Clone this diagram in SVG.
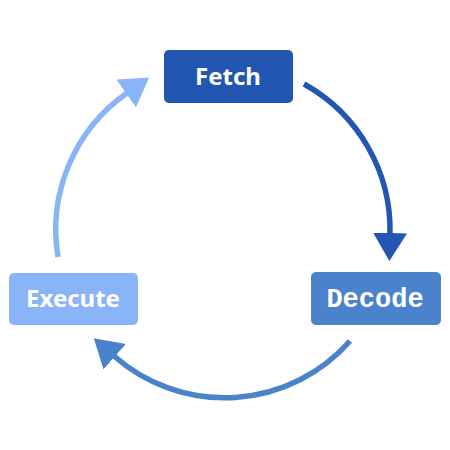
<svg xmlns="http://www.w3.org/2000/svg" width="450" height="450" viewBox="0 0 450 450">
  <style>
    .lbl { fill: #ffffff; font-family: 'Noto Sans', 'Open Sans', sans-serif; font-weight: bold; font-size: 24px; text-anchor: middle; }
    .arc { fill: none; stroke-width: 5.5; }
  </style>
  <defs>
    <marker id="m1" markerUnits="userSpaceOnUse" viewBox="0 0 28 34" markerWidth="28" markerHeight="34" refX="1" refY="17" orient="auto">
      <path d="M0,0 L28,17 L0,34 z" fill="#2355b2"/>
    </marker>
    <marker id="m2" markerUnits="userSpaceOnUse" viewBox="0 0 28 34" markerWidth="28" markerHeight="34" refX="1" refY="17" orient="auto">
      <path d="M0,0 L28,17 L0,34 z" fill="#4a83cc"/>
    </marker>
    <marker id="m3" markerUnits="userSpaceOnUse" viewBox="0 0 28 34" markerWidth="28" markerHeight="34" refX="1" refY="17" orient="auto">
      <path d="M0,0 L28,17 L0,34 z" fill="#8ab4f8"/>
    </marker>
  </defs>
  <rect width="450" height="450" fill="#ffffff"/>
  <g id="connectors">
    <path class="arc" stroke="#2355b2" d="M304,84 A167,167 0 0 1 390,234" marker-end="url(#m1)"/>
    <path class="arc" stroke="#4a83cc" d="M350,341 A167,167 0 0 1 114,356" marker-end="url(#m2)"/>
    <path class="arc" stroke="#8ab4f8" d="M58,257 A167,167 0 0 1 127,93" marker-end="url(#m3)"/>
  </g>
  <g id="fetch">
    <rect x="164" y="50" width="129" height="53" rx="5" fill="#2355b2"/>
    <text class="lbl" x="228" y="85">Fetch</text>
  </g>
  <g id="decode">
    <rect x="311" y="272" width="130" height="53" rx="5" fill="#4a83cc"/>
    <text x="375" y="307" fill="#ffffff" text-anchor="middle" font-weight="bold" font-size="27" font-family="'Liberation Mono', 'Courier New', Courier, 'Nimbus Mono PS', FreeMono, monospace">Decode</text>
  </g>
  <g id="execute">
    <rect x="9" y="273" width="129" height="52" rx="5" fill="#8ab4f8"/>
    <text class="lbl" x="73" y="307">Execute</text>
  </g>
</svg>
